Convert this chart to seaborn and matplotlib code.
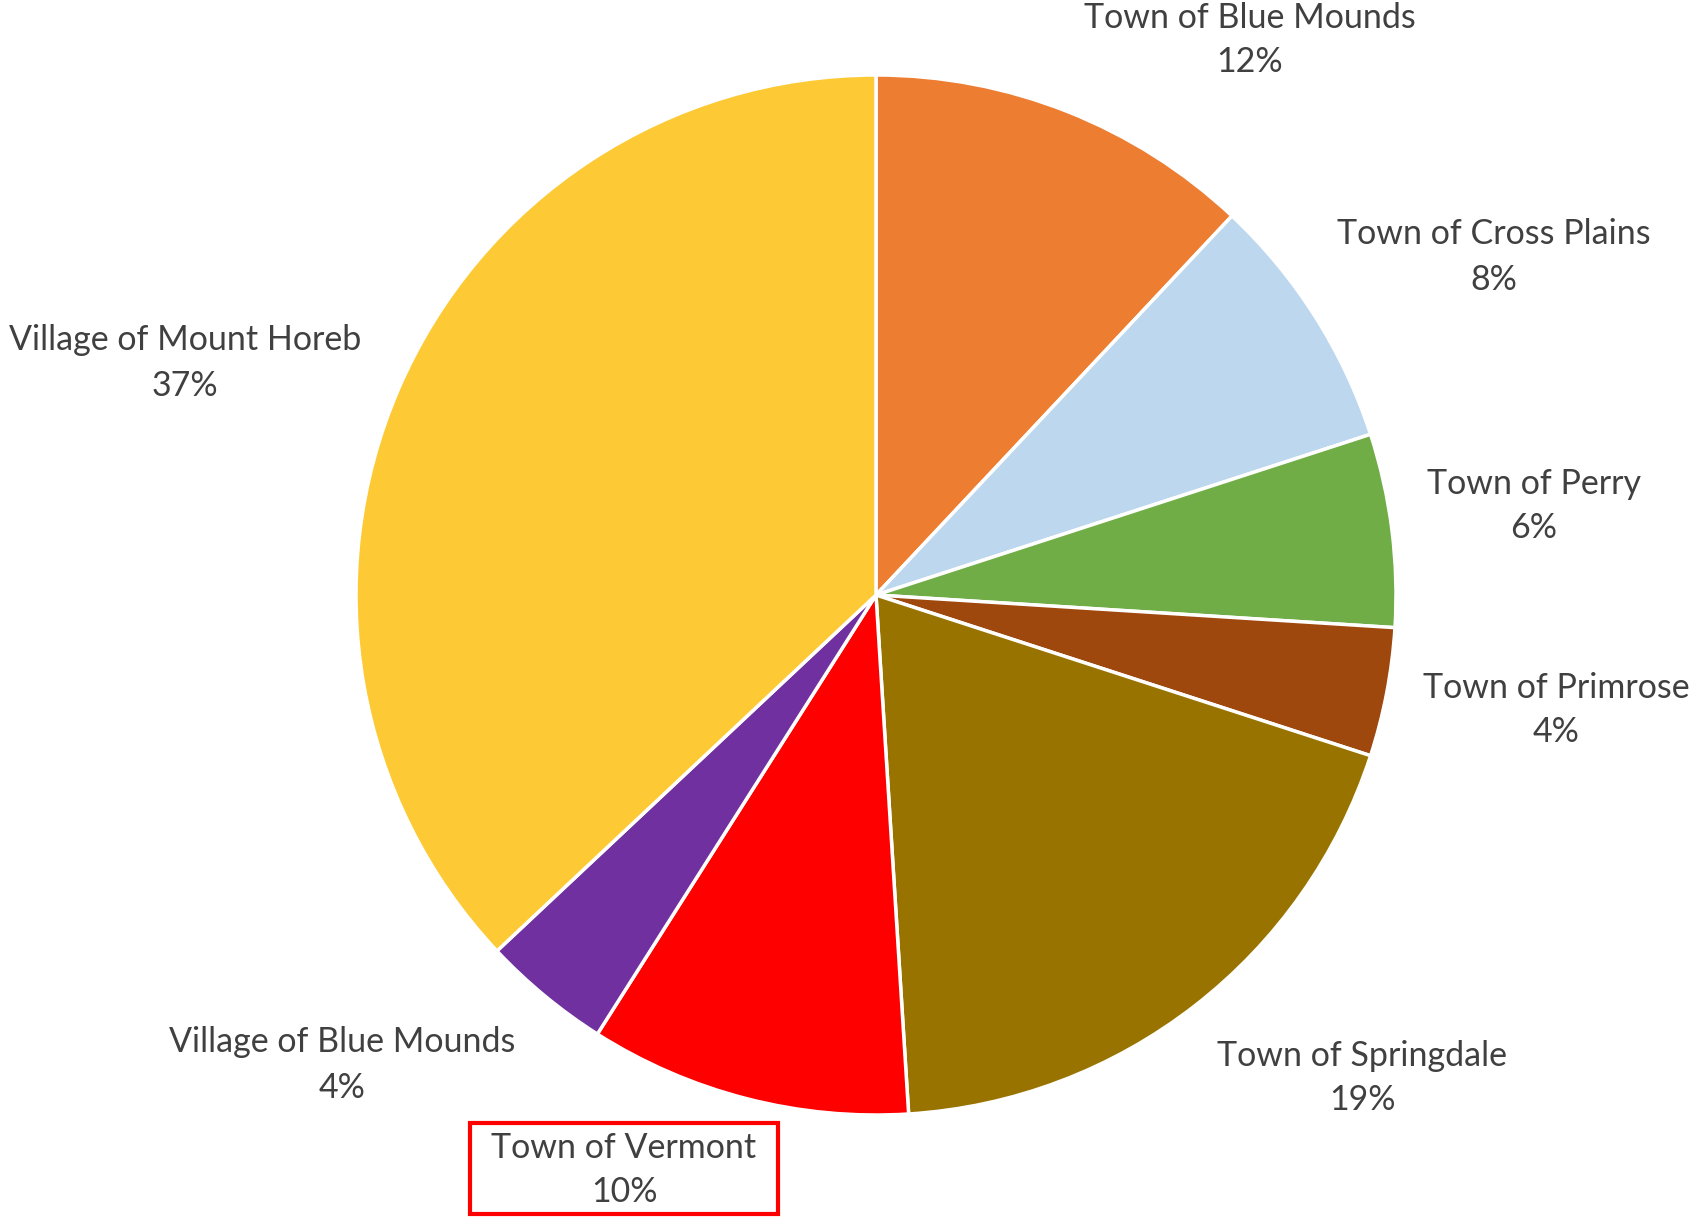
import matplotlib
matplotlib.use("Agg")
import matplotlib.pyplot as plt
from matplotlib.patches import Rectangle
import seaborn as sns

# Share of the total by municipality
municipalities = [
    "Town of Blue Mounds",
    "Town of Cross Plains",
    "Town of Perry",
    "Town of Primrose",
    "Town of Springdale",
    "Town of Vermont",
    "Village of Blue Mounds",
    "Village of Mount Horeb",
]
shares = [12, 8, 6, 4, 19, 10, 4, 37]
slice_colors = ["#ED7D31", "#BDD7EE", "#70AD47", "#9E480E",
                "#997300", "#FF0000", "#7030A0", "#FDCA35"]
highlighted = "Town of Vermont"

sns.set_theme(style="white")
plt.rcParams["font.family"] = ["Lato", "DejaVu Sans"]

W, H = 1696, 1217
fig = plt.figure(figsize=(W / 100, H / 100), dpi=100)
ax = fig.add_axes([0, 0, 1, 1])

cx, cy, r = 876, H - 595, 520
ax.pie(shares, colors=slice_colors, startangle=90, counterclock=False,
       center=(cx, cy), radius=r,
       wedgeprops=dict(edgecolor="white", linewidth=2.5))

# label anchor points (pixel layout, top-left origin)
label_xy = {
    "Town of Blue Mounds": (1250, 40),
    "Town of Cross Plains": (1494, 257),
    "Town of Perry": (1534, 506),
    "Town of Primrose": (1556, 710),
    "Town of Springdale": (1362, 1078),
    "Town of Vermont": (624, 1170),
    "Village of Blue Mounds": (342, 1065),
    "Village of Mount Horeb": (185, 363),
}

for name, val in zip(municipalities, shares):
    x, y = label_xy[name]
    ax.text(x, H - y, f"{name}\n{val}%", ha="center", va="center",
            fontsize=24.5, color="#404040", linespacing=1.5, zorder=5)

# red frame calling out the highlighted municipality's label
ax.add_patch(Rectangle((470, H - 1214), 308, 91, fill=False,
                       edgecolor="#FF0000", linewidth=3, zorder=4))

ax.set_xlim(0, W)
ax.set_ylim(0, H)
ax.set_aspect("equal")
ax.axis("off")

fig.savefig("out.png", dpi=100, facecolor="white")
